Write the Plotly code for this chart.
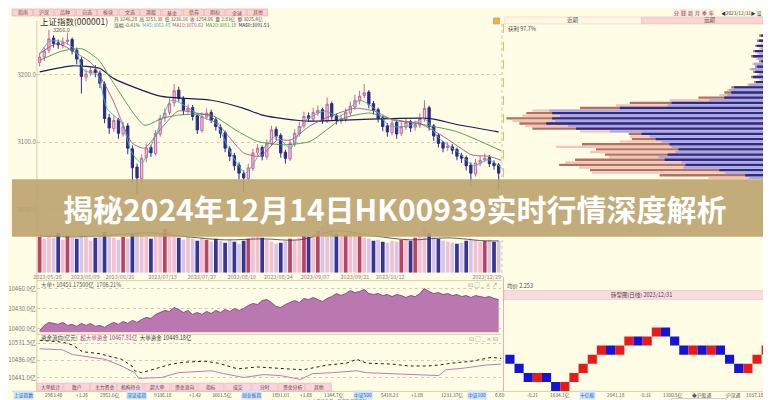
import plotly.graph_objects as go

W, H = 771, 400
FONT = "Noto Sans CJK SC"
def px(x): return x / W
def py(y): return 1 - y / H

# ---------------- data ----------------
k_open = [3218,3226,3236,3254,3247,3243,3249,3252,3236,3222,
          3196,3202,3207,3202,3186,3136,3120,3133,3112,3124,
          3090,3063,3046,3077,3092,3083,3112,3136,3144,3158,
          3177,3164,3146,3151,3139,3117,3137,3144,3133,3122,
          3114,3090,3080,3066,3053,3046,3061,3085,3092,3078,
          3097,3119,3110,3085,3075,3097,3112,3124,3139,3134,
          3143,3148,3131,3157,3139,3131,3134,3143,3152,3161,
          3169,3174,3157,3148,3136,3124,3114,3129,3113,3122,
          3130,3122,3125,3134,3151,3124,3110,3099,3092,3093,
          3089,3080,3077,3066,3053,3068,3074,3077,3069,3066]
k_close = [3226,3235,3253,3246,3244,3248,3251,3235,3223,3197,
           3201,3206,3203,3187,3135,3121,3132,3113,3123,3091,
           3062,3047,3076,3091,3084,3113,3135,3143,3157,3176,
           3165,3147,3150,3138,3118,3138,3143,3132,3123,3113,
           3091,3079,3065,3054,3047,3062,3084,3091,3079,3098,
           3118,3109,3084,3076,3098,3113,3123,3138,3135,3144,
           3147,3132,3156,3138,3132,3135,3144,3153,3162,3168,
           3173,3156,3147,3135,3123,3115,3128,3112,3123,3129,
           3121,3126,3135,3150,3123,3109,3098,3091,3094,3088,
           3079,3076,3065,3054,3069,3073,3076,3068,3065,3054]
k_high = [3232,3240,3266,3258,3252,3255,3262,3255,3240,3226,
          3208,3212,3214,3206,3190,3142,3140,3136,3130,3128,
          3095,3068,3082,3098,3096,3118,3140,3150,3165,3186,
          3182,3168,3156,3155,3142,3144,3150,3148,3137,3126,
          3117,3094,3084,3070,3058,3068,3090,3097,3095,3104,
          3124,3123,3113,3089,3104,3119,3130,3145,3144,3151,
          3154,3151,3166,3160,3142,3141,3150,3160,3170,3176,
          3186,3177,3161,3151,3139,3128,3134,3132,3130,3135,
          3133,3132,3142,3162,3154,3127,3113,3102,3100,3097,
          3092,3084,3080,3070,3075,3080,3083,3081,3073,3069]
k_low = [3212,3220,3232,3240,3238,3239,3244,3230,3215,3172,
         3190,3198,3196,3180,3128,3112,3115,3105,3108,3082,
         3040,3022,3040,3070,3078,3080,3108,3130,3140,3152,
         3160,3140,3142,3132,3112,3114,3133,3128,3117,3106,
         3085,3072,3058,3045,3025,3040,3057,3080,3073,3074,
         3094,3103,3077,3068,3072,3093,3108,3120,3130,3130,
         3139,3127,3128,3133,3126,3127,3130,3139,3148,3156,
         3165,3150,3141,3129,3116,3108,3110,3105,3109,3118,
         3115,3117,3121,3130,3117,3102,3092,3085,3087,3082,
         3073,3069,3058,3035,3049,3064,3070,3063,3059,3030]
volume = [36,34,38,35,40,33,37,35,34,39,
          36,32,35,38,41,37,35,33,36,34,
          39,42,38,36,34,37,40,44,41,38,
          35,33,36,34,32,35,33,31,34,32,
          30,33,31,29,32,34,36,38,35,33,
          31,29,30,32,34,33,35,37,36,39,
          42,47,52,44,39,36,38,41,39,37,
          35,34,32,33,31,30,32,31,33,34,
          32,35,38,46,40,36,34,32,31,30,
          29,30,32,34,33,31,32,33,31,32]

# moving averages (sparse points: bar index, value)
ma250_x = [0,7,13,16,26,37,44,48,56,58,84,90,99]
ma250_y = [3204,3213,3209,3194,3168,3162,3150,3140,3132,3131,3135,3126,3115]
ma60_x = [0,4.9,9.2,12.8,15.6,22.6,26.3,29.9,37,42.7,47,52.6,58.3,65.4,71.2,75.4,89.7,99.6]
ma60_y = [3221,3235,3238,3221,3191,3125,3135,3140,3140,3116,3101,3096,3101,3135,3143,3135,3116,3087]
ma20_x = [0,3.8,8.1,11.3,15.6,19.9,22.6,26.3,29.9,33.8,37,40.2,44,47.6,51.3,54.1,58.3,62.6,67.9,72.2,76.5,81.8,87.6,93.2,96.8,99.6]
ma20_y = [3231,3246,3231,3216,3165,3099,3091,3121,3146,3143,3138,3113,3084,3079,3103,3103,3124,3138,3150,3146,3132,3128,3106,3081,3079,3073]
ma5_x = [0,2.1,4.9,7.5,9.6,12.4,14.5,17.7,19.9,22,25.2,28.4,31.6,34.8,38,41.2,44.4,47.6,50.9,54.1,57.3,61.5,64.7,69,72.2,75.4,79.7,82.9,86.1,90.4,93.6,96.8,99.6]
ma5_y = [3231,3249,3249,3238,3206,3200,3150,3128,3084,3069,3113,3162,3153,3138,3128,3084,3054,3084,3109,3091,3132,3146,3138,3162,3150,3124,3124,3135,3106,3084,3065,3074,3062]
vma_x = [0,8,16,24,32,40,48,56,64,72,80,88,96,99]
vma_y = [37,36,38,40,36,33,34,33,42,37,33,35,32,32]

date_pos = [1.7,9.8,17.3,26.5,35,43.6,51.5,59.4,68,75.6,96.4]
date_txt = ["2023/05/26","2023/06/09","2023/06/26","2023/07/13","2023/07/27","2023/08/10",
            "2023/08/24","2023/09/07","2023/09/21","2023/10/12","2023/12/29"]

price_ticks = [3200, 3100, 3000]
price_tick_txt = ["3200.0", "3100.0", "3000.0"]

# 大单 area (亿)
big_order = [10397,10404.5,10409,10407.5,10406,10409,10404.5,10406,10403,10407.5,
             10404.5,10407.5,10403,10404.5,10401.5,10406,10409,10406,10410.5,10407.5,
             10412,10409,10413.5,10416.5,10415,10421,10424,10427,10425.5,10431.5,
             10428.5,10424,10427,10421,10424,10421,10425.5,10422.5,10427,10424,
             10428.5,10425.5,10430,10427,10430,10434.5,10437.5,10436,10442,10443.5,
             10439,10433,10431.5,10436,10439,10442,10439,10445,10443.5,10446.5,
             10443.5,10440.5,10445,10448,10452.5,10449.5,10452.5,10457,10454,10455.5,
             10458.5,10452.5,10451,10452.5,10449.5,10451,10448,10451,10449.5,10446.5,
             10449.5,10448,10452.5,10460,10455.5,10452.5,10454,10451,10452.5,10449.5,
             10451,10448,10449.5,10446.5,10449.5,10448,10446.5,10448,10445,10443.5]
area_ticks = [10400, 10430, 10460]
area_tick_txt = ["10400.0亿", "10430.0亿", "10460.0亿"]

# 资金 lines (亿)
fund_a_x = [0,4.9,7.1,9.2,12.8,15.6,17.7,19.9,20.5,22,24.8,28.4,31.2,35.5,38.5,42.7,47,49.8,51.9,54.7,56.8,62,66.2,68.4,70.5,76.1,79.7,83.3,86.1,88.9,93.2,97.4,99.6]
fund_a_y = [10538.5,10533.5,10526,10508.5,10503.5,10496,10488.5,10471,10458.5,10453.5,10463.5,10476,10481,10483.5,10478.5,10463.5,10468.5,10466,10466,10463.5,10461,10473.5,10478.5,10488.5,10478.5,10476,10471,10471,10473.5,10478.5,10483.5,10493.5,10491]
fund_b_x = [0,4.9,7.1,14.1,17.7,20.5,21.4,26.3,29.9,37,39.7,44,48.3,51.9,56.2,58.9,63.2,68.4,70.5,76.1,83.3,86.1,87.6,91.9,96.2,99.6]
fund_b_y = [10516,10513.5,10501,10488.5,10471,10453.5,10438.5,10441,10453.5,10458.5,10451,10441,10448.5,10446,10436,10451,10453.5,10458.5,10453.5,10451,10448.5,10446,10461,10466,10473.5,10476]
fund_ticks = [10441, 10486, 10531]
fund_tick_txt = ["10441.0亿", "10486.0亿", "10531.5亿"]

# 筹码分布 (right top): bar lengths per price level, top to bottom
prof_inner = [3,6,10,14,18,12,20,16,22,18,24,20,26,21,18,25,22,28,24,20,
              26,18,23,30,45,50,48,52,55,70,108,112,160,231,228,220,228,225,234,212,
              204,170,138,130,124,118,110,108,101,104,112,121,115,98,94,96,60,54,34,30]
prof_outer = [3,8,12,16,20,14,22,18,24,20,26,22,28,23,20,27,24,30,26,22,
              28,20,25,32,48,52,55,60,81,110,150,164,200,248,254,258,274,268,261,255,
              248,200,151,150,148,160,198,224,184,190,175,171,205,215,221,201,190,188,120,71]

# 砖型图 (right bottom)
renko_low = [2.23,2.22,2.21,2.21,2.21,2.20,2.20,2.21,2.22,2.23,2.24,2.24,2.24,2.25,2.25,
             2.25,2.26,2.26,2.25,2.24,2.24,2.24,2.24,2.24,2.23,2.22,2.22,2.23,2.24]
renko_dir = ["d","d","d","u","d","d","u","u","u","u","u","d","u","u","d",
             "u","u","d","d","d","u","d","u","d","d","d","u","u","u"]
renko_brick = 0.01
renko_last = 2.2448

top_tabs = ["指南","沪深","品种","自选","板块","文选","港股","基金","债券","期权","全球","其他"]
bottom_tabs = ["大单统计","散户","主力资金","机构持仓","超大单","资金流向","指标","成交","分时","资金分析","其他"]

# ---------------- figure ----------------
fig = go.Figure()
n = len(k_close)
idx = list(range(n))

fig.add_trace(go.Candlestick(
    x=idx, open=k_open, high=k_high, low=k_low, close=k_close,
    increasing=dict(line=dict(color="#c8689c", width=1), fillcolor="#f0c4da"),
    decreasing=dict(line=dict(color="#2c2c86", width=1), fillcolor="#2c2c86"),
    whiskerwidth=0, xaxis="x", yaxis="y", showlegend=False, hoverinfo="skip"))
for xs, ys, col, wd in [(ma250_x, ma250_y, "#1e1e5a", 1.2), (ma60_x, ma60_y, "#3c9a4c", 0.9),
                         (ma20_x, ma20_y, "#a4548e", 0.9), (ma5_x, ma5_y, "#38b4c4", 0.9)]:
    fig.add_trace(go.Scatter(x=xs, y=ys, mode="lines", line=dict(color=col, width=wd, shape="spline", smoothing=0.6),
                             xaxis="x", yaxis="y", showlegend=False, hoverinfo="skip"))

vol_colors = []
for i in range(n):
    if k_close[i] >= k_open[i]:
        vol_colors.append("#b8446a" if i % 3 == 0 else "#f2bfd4")
    else:
        vol_colors.append("#34349a" if i % 2 == 0 else "#d6c4ea")
fig.add_trace(go.Bar(x=idx, y=volume, marker=dict(color=vol_colors, line=dict(width=0)), width=0.8,
                     xaxis="x2", yaxis="y2", showlegend=False, hoverinfo="skip"))
fig.add_trace(go.Scatter(x=vma_x, y=vma_y, mode="lines", line=dict(color="#3a3a4a", width=0.8, shape="spline"),
                         xaxis="x2", yaxis="y2", showlegend=False, hoverinfo="skip"))

fig.add_trace(go.Scatter(x=idx, y=big_order, mode="lines", fill="tozeroy", fillcolor="#b978af",
                         line=dict(color="#8d4c8a", width=1), xaxis="x3", yaxis="y3",
                         showlegend=False, hoverinfo="skip"))

fig.add_trace(go.Scatter(x=fund_a_x, y=fund_a_y, mode="lines", line=dict(color="#222222", width=1, dash="dot"),
                         xaxis="x4", yaxis="y4", showlegend=False, hoverinfo="skip"))
fig.add_trace(go.Scatter(x=fund_b_x, y=fund_b_y, mode="lines", line=dict(color="#c27ab6", width=1),
                         xaxis="x4", yaxis="y4", showlegend=False, hoverinfo="skip"))

levels = list(range(len(prof_inner)))
outer_cols = ["#b5705c" if k % 2 == 0 else "#f0c6bc" for k in levels]
inner_cols = ["#2b2b8f" if k % 2 == 0 else "#a9a9e2" for k in levels]
fig.add_trace(go.Bar(x=prof_outer, y=levels, orientation="h", marker=dict(color=outer_cols, line=dict(width=0)),
                     width=0.9, xaxis="x5", yaxis="y5", showlegend=False, hoverinfo="skip"))
fig.add_trace(go.Bar(x=prof_inner, y=levels, orientation="h", marker=dict(color=inner_cols, line=dict(width=0)),
                     width=0.9, xaxis="x5", yaxis="y5", showlegend=False, hoverinfo="skip"))

rj = list(range(len(renko_low)))
fig.add_trace(go.Bar(x=rj, y=[renko_brick] * len(rj), base=renko_low, width=1.0,
                     marker=dict(color=["#e81a1a" if d == "u" else "#1414d8" for d in renko_dir], line=dict(width=0)),
                     xaxis="x6", yaxis="y6", showlegend=False, hoverinfo="skip"))
fig.add_trace(go.Scatter(x=[len(rj) - 0.5, len(rj) + 0.4], y=[renko_last, renko_last], mode="lines",
                         line=dict(color="#1414a0", width=1.5), xaxis="x6", yaxis="y6",
                         showlegend=False, hoverinfo="skip"))

# ---------------- axes ----------------
def hid(**kw):
    d = dict(showgrid=False, zeroline=False, showticklabels=False, ticks="", showline=False, fixedrange=True)
    d.update(kw)
    return d

tf = dict(size=6, color="#777", family=FONT)
xdom = [px(25), px(492)]
xr = [-0.6, n - 0.4]
layout_axes = dict(
    xaxis=hid(domain=xdom, range=xr, anchor="y", rangeslider=dict(visible=False)),
    yaxis=hid(domain=[py(205), py(15)], range=[2995, 3275], anchor="x", showticklabels=True,
              tickvals=price_ticks, ticktext=price_tick_txt, tickfont=tf, showgrid=True,
              gridcolor="#d9ccae", griddash="dot", gridwidth=1),
    xaxis2=hid(domain=xdom, range=xr, anchor="y2", showticklabels=True, tickvals=date_pos,
               ticktext=date_txt, tickfont=dict(size=5.5, color="#888", family=FONT)),
    yaxis2=hid(domain=[py(265), py(205)], range=[0, 60], anchor="x2"),
    xaxis3=hid(domain=xdom, range=xr, anchor="y3"),
    yaxis3=hid(domain=[py(325), py(277)], range=[10394, 10466], anchor="x3", showticklabels=True,
               tickvals=area_ticks, ticktext=area_tick_txt, tickfont=tf, showgrid=True,
               gridcolor="#d9ccae", griddash="dot"),
    xaxis4=hid(domain=xdom, range=xr, anchor="y4"),
    yaxis4=hid(domain=[py(378), py(330)], range=[10421, 10546], anchor="x4", showticklabels=True,
               tickvals=fund_ticks, ticktext=fund_tick_txt, tickfont=tf, showgrid=True,
               gridcolor="#d9ccae", griddash="dot"),
    xaxis5=hid(domain=[px(495), 1], range=[276, 0], anchor="y5"),
    yaxis5=hid(domain=[py(171), py(15)], range=[len(prof_inner) - 0.5, -0.5], anchor="x5"),
    xaxis6=hid(domain=[px(495), 1], range=[-0.6, 29.4], anchor="y6"),
    yaxis6=hid(domain=[py(388), py(295)], range=[2.1956, 2.2974], anchor="x6"),
)

# ---------------- decorations ----------------
shapes, ann = [], []
def rect(x0, y0, x1, y1, fill, line=None, lw=0.8, layer="below"):
    shapes.append(dict(type="rect", xref="paper", yref="paper", x0=px(x0), x1=px(x1), y0=py(y1), y1=py(y0),
                       fillcolor=fill, line=dict(color=line or "rgba(0,0,0,0)", width=lw if line else 0),
                       layer=layer))
def hline(x0, x1, y, col, w=0.8, dash=None, layer="below"):
    shapes.append(dict(type="line", xref="paper", yref="paper", x0=px(x0), x1=px(x1), y0=py(y), y1=py(y),
                       line=dict(color=col, width=w, dash=dash), layer=layer))
def vline(x, y0, y1, col, w=0.8, dash=None, layer="below"):
    shapes.append(dict(type="line", xref="paper", yref="paper", x0=px(x), x1=px(x), y0=py(y0), y1=py(y1),
                       line=dict(color=col, width=w, dash=dash), layer=layer))
def txt(x, y, s, size=6, color="#555", anchor="left", bg=None, bold=False):
    d = dict(x=px(x), y=py(y), xref="paper", yref="paper", text=("<b>%s</b>" % s) if bold else s,
             showarrow=False, xanchor=anchor, yanchor="middle", font=dict(size=size, color=color, family=FONT),
             borderpad=0)
    if bg:
        d.update(bgcolor=bg)
    ann.append(d)

# top tab bar
tw = 21.5
for i, t in enumerate(top_tabs):
    rect(i * tw, 0, i * tw + tw - 1, 7, "#f9d4d4", "#e2a4a4", 0.6)
    txt(i * tw + tw / 2, 3.5, t, 5, "#8a4848", "center")
# header texts
txt(27, 12.5, "上证指数(000001)", 8.5, "#333")
txt(102, 10, "开 3246.28  高 3251.38  低 3236.16  收 3254.06  量 2.83亿  额 3025.4亿", 4.8, "#555")
txt(102, 16.5, "涨幅 -0.41%  <span style='color:#38b4c4'>MA5:3062.45</span>  <span style='color:#a4548e'>MA10:3070.62</span>  "
    "<span style='color:#3c9a4c'>MA20:3081.18</span>  <span style='color:#1e1e5a'>MA60:3091.53</span>", 4.8, "#555")
rect(484, 9, 490, 15, "#f0b050", "#c08030", 0.5)
ann.append(dict(x=2.5, y=k_high[2], xref="x", yref="y", text="3266.0", showarrow=False, xanchor="left",
                yanchor="middle", font=dict(size=5.5, color="#555", family=FONT)))

# frames
vline(25, 12, 384, "#d4c092")
vline(492.5, 15, 270, "#b8b0a0", 0.7, "dot")
hline(25, 492, 273, "#d4c092")
hline(25, 492, 327, "#d4c092")
hline(0, 771, 384.3, "#d4c092")
vline(494, 15, 171, "#e0a050", 0.8, "dash")
vline(494, 270, 384, "#d8b0b8", 1)

# area header / fund header
txt(28, 277, "大单+ 10451.17500亿  1706.21%", 5.5, "#555")
txt(28, 331, "资金流向(亿元)  <span style='color:#a03c96'>超大单资金 10467.81亿</span>  大单资金 10449.18亿", 5.5, "#333")
txt(490, 277.5, "⊡ □ _ × ↗", 5.5, "#888", "right")
txt(490, 331.5, "⊡ □ _ × ⊡", 5.5, "#888", "right")

# bottom tab bar
bw = 27
for i, t in enumerate(bottom_tabs):
    rect(25 + i * bw, 376, 25 + i * bw + bw - 1, 384, "#f8d4dc", "#e0a4b0", 0.5)
    txt(25 + i * bw + bw / 2, 380, t, 4.8, "#6a3a4a", "center")

# status row
status = [(1, "上证指数", True), (32, "2963.46", False), (63, "+1.26", False), (87, "2951.6亿", False),
          (115, "深证成指", True), (142, "9336.18", False), (177, "+1.42", False), (200, "3661.5亿", False),
          (230, "创业板指", True), (260, "1891.01", False), (288, "+1.68", False), (313, "1344.7亿", False),
          (343, "中证500", True), (370, "5418.21", False), (400, "+1.08", False), (430, "1231.37亿", False),
          (457, "中证100", True), (485, "6.60", False), (517, "-0.21", False), (540, "1634.1亿", False),
          (570, "十亿板", True), (597, "2041.18", False), (630, "-0.31", False), (653, "1100.5亿", False),
          (683, "◆沪股通", False), (717, "沪深通", False), (737, "1037.18", False)]
for x, s, boxed in status:
    if boxed:
        txt(x, 387.6, s, 4.8, "#1a5ac8", "left", bg="#cfe4f8")
    else:
        txt(x, 387.6, s, 4.8, "#555", "left")
txt(3, 394.5, "◆ ◆", 4.2, "#777")
txt(296, 394.5, "△ 大盘已收盘，延迟数据请刷新", 4.2, "#555")
rect(663, 391.5, 718, 398.5, "#ffffff", "#b0b0b0", 0.6)
txt(721, 394.5, "Q", 4.4, "#444")
txt(733, 394.5, "●", 4.4, "#3a8a3a")
txt(770, 394.5, "15:34:47", 4.4, "#333", "right")

# right panel header
rect(495, 8, 633, 15, "#fff6e4", "#e6cfae", 0.5)
rect(633, 8, 771, 15, "#f8d6d6", "#e6b0b0", 0.5)
txt(564, 11.5, "近期", 5.5, "#555", "center")
txt(702, 11.5, "远期", 5.5, "#555", "center")
tools = ["分", "日", "周", "月", "季", "年"]
for i, t in enumerate(tools):
    rect(665 + i * 7, 0.5, 671 + i * 7, 7, "#f4c4c4" if t == "日" else "#fde6e6", None)
    txt(668 + i * 7, 3.8, t, 4.8, "#733", "center")
txt(712, 3.8, "◀2023/12/31▶ 设", 4.8, "#335", "left")
txt(498, 20, "获利 97.7%", 5.5, "#444")

# right bottom header
txt(497, 278, "均价 2.253", 5.5, "#444")
rect(495, 283, 771, 292, "#f8dce0", "#e6b8c0", 0.5)
txt(633, 287.5, "砖型图(日线) 2023/12/31", 5.5, "#444", "center")

# banner + title
rect(0, 171, 771, 229, "rgba(186,163,110,0.90)", None, layer="above")
ann.append(dict(x=px(384), y=py(200), xref="paper", yref="paper",
                text="<b>揭秘2024年12月14日HK00939实时行情深度解析</b>", showarrow=False,
                xanchor="center", yanchor="middle", font=dict(size=30, color="#ffffff", family=FONT)))

fig.update_layout(
    width=W, height=H, margin=dict(l=0, r=0, t=0, b=0),
    paper_bgcolor="#FFFDE6", plot_bgcolor="rgba(0,0,0,0)",
    barmode="overlay", showlegend=False, shapes=shapes, annotations=ann,
    font=dict(family=FONT), **layout_axes)

fig.write_html("out.html")
